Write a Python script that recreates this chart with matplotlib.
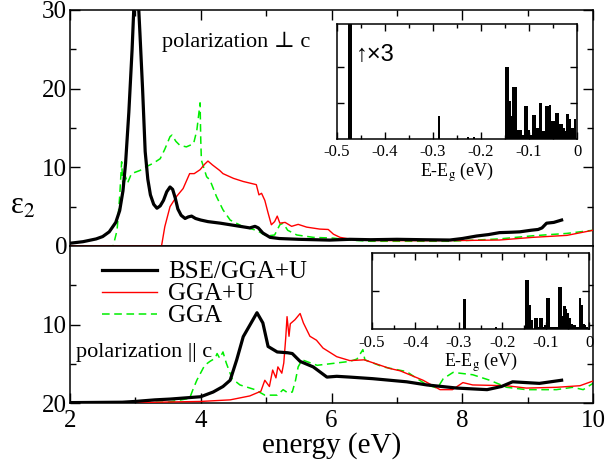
import matplotlib
matplotlib.use('Agg')
import matplotlib.pyplot as plt
from matplotlib.ticker import MultipleLocator, FixedLocator

plt.rcParams['font.family'] = ['Liberation Serif', 'DejaVu Serif']
plt.rcParams['mathtext.fontset'] = 'stix'

# ---- top panel: polarization perpendicular to c ----
perp_bse_e = [2.0, 2.2, 2.4, 2.5, 2.6, 2.7, 2.76, 2.81, 2.85, 2.9, 2.95, 2.98, 3.01, 3.04, 3.07, 3.11,
              3.15, 3.19, 3.23, 3.28, 3.33, 3.38, 3.43, 3.48, 3.53, 3.57, 3.61, 3.65, 3.7, 3.76, 3.81,
              3.86, 3.92, 4.0, 4.11, 4.3, 4.45, 4.6, 4.75, 4.83, 4.88, 4.95, 5.06, 5.2, 5.5, 5.97, 6.28,
              6.6, 7.0, 7.4, 7.81, 8.0, 8.22, 8.4, 8.57, 8.75, 8.88, 9.05, 9.16, 9.22, 9.29, 9.4, 9.52]
perp_bse = [0.35, 0.55, 0.9, 1.2, 1.8, 3.0, 4.5, 7.0, 10.5, 17, 25, 31, 35, 32, 27, 20,
            12, 8.5, 6.5, 5.3, 4.8, 5.1, 5.8, 6.9, 7.5, 7.2, 6.1, 4.7, 3.9, 3.5, 3.7,
            3.8, 3.5, 3.3, 3.1, 2.9, 2.7, 2.5, 2.3, 2.5, 2.3, 1.65, 1.1, 0.95, 0.85, 0.75, 0.85,
            0.8, 0.85, 0.8, 0.76, 0.95, 1.27, 1.45, 1.7, 1.75, 1.8, 2.0, 2.1, 2.3, 2.9, 3.0, 3.3]

perp_ggau_e = [2.0, 3.40, 3.45, 3.53, 3.63, 3.73, 3.83, 3.9, 3.99, 4.06, 4.11, 4.18, 4.29, 4.34, 4.5,
               4.65, 4.8, 4.85, 4.89, 4.93, 4.98, 5.03, 5.08, 5.13, 5.17, 5.21, 5.29, 5.39, 5.49,
               5.62, 5.82, 5.95, 6.03, 6.13, 6.3, 6.6, 7.0, 7.5, 8.0, 8.57, 9.08, 9.6, 10.0]
perp_ggau = [0, 0, 2.45, 5.0, 6.3, 7.3, 9.2, 9.2, 9.7, 10.4, 10.8, 10.3, 9.6, 9.2, 8.6,
             8.2, 7.9, 7.8, 6.5, 6.7, 5.8, 4.2, 2.7, 3.1, 3.8, 2.9, 3.0, 2.5, 2.75,
             2.4, 2.15, 2.1, 1.5, 1.1, 0.85, 0.7, 0.68, 0.68, 0.7, 0.76, 1.1, 1.35, 2.0]

perp_gga_e = [2.0, 2.66, 2.72, 2.76, 2.79, 2.81, 2.85, 2.88, 2.94, 3.07, 3.17, 3.27, 3.38, 3.45, 3.53,
              3.56, 3.62, 3.68, 3.78, 3.89, 3.94, 3.99, 4.0, 4.01, 4.09, 4.14, 4.24, 4.34, 4.45,
              4.65, 4.85, 5.01, 5.13, 5.21, 5.26, 5.33, 5.47, 5.72, 6.03, 6.28, 6.6, 7.0, 7.81,
              8.57, 9.08, 9.6, 10.0]
perp_gga = [0, 0, 2.0, 6.3, 10.7, 7.5, 8.8, 8.0, 9.2, 9.6, 10.1, 10.5, 11.1, 12.3, 13.9,
            14.1, 13.3, 12.8, 12.6, 13.0, 14.7, 18.2, 13.5, 10.9, 8.8, 8.4, 6.3, 4.6, 3.3,
            2.45, 2.0, 1.27, 1.4, 2.7, 2.9, 2.0, 1.4, 1.1, 1.0, 0.75, 0.6, 0.6, 0.6,
            0.9, 1.3, 1.6, 2.0]

# ---- bottom panel: polarization parallel to c (values as read on the inverted axis) ----
par_bse_e = [2.0, 2.8, 3.0, 3.3, 3.53, 4.0, 4.19, 4.34, 4.45, 4.55, 4.65, 4.75, 4.86, 4.95, 5.03,
             5.17, 5.33, 5.4, 5.52, 5.72, 5.93, 6.08, 6.28, 6.63, 7.15, 7.46, 7.92, 8.38, 8.6,
             8.77, 9.18, 9.52]
par_bse = [19.95, 19.9, 19.8, 19.6, 19.5, 19.2, 18.6, 17.9, 17.1, 14.5, 11.55, 10.1, 8.5, 9.8, 12.8,
           13.5, 13.6, 13.7, 14.7, 15.4, 16.7, 16.6, 16.7, 16.9, 17.3, 17.7, 18.1, 18.3, 17.9,
           17.3, 17.5, 17.1]

par_ggau_e = [2.0, 3.0, 4.0, 4.45, 4.75, 4.92, 4.98, 5.05, 5.10, 5.15, 5.18, 5.24, 5.27, 5.30, 5.32,
              5.35, 5.37, 5.44, 5.52, 5.57, 5.67, 5.77, 5.87, 6.08, 6.28, 6.5, 6.89, 7.05, 7.40,
              7.66, 7.85, 8.01, 8.16, 8.68, 8.98, 9.44, 9.80, 10.0]
par_ggau = [20.0, 19.95, 19.8, 19.6, 19.1, 18.5, 17.1, 17.9, 15.8, 16.8, 15.4, 16.2, 14.9, 11.7, 9.0,
            11.5, 9.9, 9.4, 8.6, 9.8, 11.5, 12.0, 13.0, 14.1, 14.6, 14.5, 15.6, 15.9, 17.1,
            18.3, 18.3, 17.4, 17.7, 17.8, 18.1, 18.0, 17.8, 17.2]

par_gga_e = [2.0, 3.5, 3.83, 3.88, 3.94, 4.06, 4.14, 4.22, 4.25, 4.29, 4.34, 4.39, 4.48, 4.6, 4.83,
             4.98, 5.17, 5.26, 5.33, 5.40, 5.45, 5.49, 5.55, 5.78, 5.98, 6.28, 6.39, 6.48, 6.51,
             6.79, 7.15, 7.31, 7.46, 7.62, 7.71, 7.86, 8.16, 8.42, 8.68, 8.98, 9.44, 9.69, 9.85, 10.0]
par_gga = [20.0, 19.9, 19.4, 18.3, 17.1, 15.2, 14.7, 14.3, 13.7, 14.3, 13.5, 14.9, 16.9, 17.7, 18.3,
           19.0, 19.0, 18.3, 18.7, 18.6, 17.1, 15.4, 14.5, 15.2, 15.0, 14.7, 14.4, 13.2, 14.5,
           15.4, 16.0, 16.9, 17.7, 18.1, 16.9, 16.1, 16.4, 17.1, 18.0, 18.3, 18.3, 18.0, 18.3, 17.5]

# ---- inset spectra (E - Eg, oscillator strength) ----
perp_peak_e = [-0.472, -0.287, -0.227, -0.214,
               -0.148, -0.144, -0.140, -0.136, -0.132, -0.128, -0.124, -0.120, -0.116, -0.112,
               -0.108, -0.104, -0.100, -0.096, -0.092, -0.088, -0.084, -0.080, -0.076, -0.072,
               -0.068, -0.064, -0.060, -0.056, -0.052, -0.048, -0.044, -0.040, -0.036, -0.032,
               -0.028, -0.024, -0.020, -0.016, -0.012, -0.008, -0.004]
perp_peak_h = [10.0, 0.64, 0.05, 0.05,
               2.0, 2.0, 1.05, 0.63, 1.45, 1.45, 0.25, 0.25, 0.25, 0.1,
               0.9, 0.9, 0.25, 0.1, 0.65, 0.65, 0.3, 0.3, 1.0, 0.2,
               0.2, 0.9, 0.9, 0.94, 0.48, 0.48, 0.72, 0.72, 0.41, 0.41,
               0.3, 0.2, 0.68, 0.55, 0.3, 0.3, 0.55]

par_peak_e = [-0.287, -0.214,
              -0.145, -0.141, -0.137, -0.133, -0.129, -0.125, -0.121, -0.117, -0.113, -0.109,
              -0.105, -0.101, -0.097, -0.093, -0.089, -0.085, -0.081, -0.077, -0.073, -0.069,
              -0.065, -0.061, -0.057, -0.053, -0.049, -0.045, -0.041, -0.037, -0.033, -0.029,
              -0.025, -0.021, -0.017, -0.013, -0.009, -0.005]
par_peak_h = [0.79, 0.06,
              1.28, 1.28, 0.64, 0.25, 0.02, 0.3, 0.3, 0.05, 0.3, 0.3,
              0.05, 0.1, 0.82, 0.82, 0.05, 0.05, 0.05, 0.05, 0.05, 1.1,
              1.1, 0.34, 0.62, 0.52, 0.43, 0.3, 0.15, 0.12, 0.12, 0.05,
              0.05, 0.82, 0.64, 0.15, 0.1, 0.05]

fig = plt.figure(figsize=(6.07, 4.63), dpi=100)
W, H = 607.0, 463.0

def box(x0, y0, x1, y1):
    # pixel box -> figure fraction
    return [x0 / W, 1 - y1 / H, (x1 - x0) / W, (y1 - y0) / H]

ax_top = fig.add_axes(box(70, 10, 593, 246))
ax_bot = fig.add_axes(box(70, 246, 593, 403))

lw_bse, lw_thin = 2.3, 1.0
green = '#00ee00'
for ax in (ax_top, ax_bot):
    for s in ax.spines.values():
        s.set_linewidth(1.1)
    ax.set_xlim(2, 10)
    ax.xaxis.set_major_locator(MultipleLocator(2))
    ax.xaxis.set_minor_locator(MultipleLocator(1))
    ax.tick_params(which='both', direction='in', right=True, labelsize=18, width=1.0)
    ax.tick_params(which='major', length=7)
    ax.tick_params(which='minor', length=4)
    ax.tick_params(axis='y', pad=2)

l_gga, = ax_top.plot(perp_gga_e, perp_gga, color=green, lw=1.1, ls=(0, (5, 3)), label='GGA', zorder=2)
l_ggau, = ax_top.plot(perp_ggau_e, perp_ggau, color='red', lw=lw_thin, label='GGA+U', zorder=3)
l_bse, = ax_top.plot(perp_bse_e, perp_bse, color='black', lw=lw_bse, label='BSE/GGA+U', zorder=4)
ax_top.set_ylim(0, 30)
ax_top.yaxis.set_major_locator(MultipleLocator(10))
ax_top.yaxis.set_minor_locator(MultipleLocator(5))
ax_top.tick_params(which='both', top=True, bottom=False, labelbottom=False)
ax_top.text(0.175, 0.845, 'polarization \u22a5 c', transform=ax_top.transAxes,
            fontsize=16, va='baseline')

ax_bot.plot(par_gga_e, par_gga, color=green, lw=1.1, ls=(0, (5, 3)), zorder=2)
ax_bot.plot(par_ggau_e, par_ggau, color='red', lw=lw_thin, zorder=3)
ax_bot.plot(par_bse_e, par_bse, color='black', lw=lw_bse, zorder=4)
ax_bot.set_ylim(20, 0)
ax_bot.yaxis.set_major_locator(FixedLocator([10, 20]))
ax_bot.yaxis.set_minor_locator(FixedLocator([5, 15]))
ax_bot.tick_params(which='both', top=False)
ax_bot.tick_params(axis='x', pad=5)
ax_bot.set_xlabel('energy (eV)', fontsize=21, labelpad=0)
ax_bot.text(0.012, 0.295, 'polarization || c', transform=ax_bot.transAxes,
            fontsize=16, va='baseline')
ax_bot.legend(handles=[l_bse, l_ggau, l_gga], loc='upper left', bbox_to_anchor=(0.061, 0.905),
              frameon=False, fontsize=18, borderaxespad=0, borderpad=0, labelspacing=-0.02,
              handlelength=2.2, handletextpad=0.46)

fig.text(10 / W, 1 - 206 / H, '\u03b5$_2$', fontsize=22, va='center', ha='left')

# insets
def inset(rect, e, h, ymax, yt, big_w):
    ia = fig.add_axes(rect)
    widths = [big_w if v > 5 else 0.005 for v in h]
    ia.bar(e, h, width=widths, color='black', align='center')
    ia.set_xlim(-0.5, 0)
    ia.set_ylim(0, ymax)
    ia.xaxis.set_major_locator(MultipleLocator(0.1))
    ia.xaxis.set_minor_locator(MultipleLocator(0.05))
    ia.yaxis.set_major_locator(FixedLocator(yt))
    ia.tick_params(which='both', direction='in', top=True, right=True, labelleft=False,
                   labelsize=12, width=1.0, pad=4)
    ia.tick_params(which='major', length=5)
    ia.tick_params(which='minor', length=3)
    ia.set_xticks([-0.5, -0.4, -0.3, -0.2, -0.1, 0])
    ia.set_xticklabels(['-0.5', '-0.4', '-0.3', '-0.2', '-0.1', '0'])
    ia.set_xlabel('E-E$_\\mathrm{g}$ (eV)', fontsize=13, labelpad=0)
    for s in ia.spines.values():
        s.set_linewidth(1.1)
    return ia

ins_top = inset(box(336.7, 24, 577, 138.5), perp_peak_e, perp_peak_h, 3.22, [1, 2], 0.007)
ins_top.text(0.08, 0.73, '\u2191\u00d73', transform=ins_top.transAxes, fontsize=17,
             family=['Liberation Sans', 'DejaVu Sans'], va='center')
ins_bot = inset(box(372, 252.7, 589.3, 329.3), par_peak_e, par_peak_h, 2.0, [1], 0.007)

fig.savefig('out.png', dpi=100)
